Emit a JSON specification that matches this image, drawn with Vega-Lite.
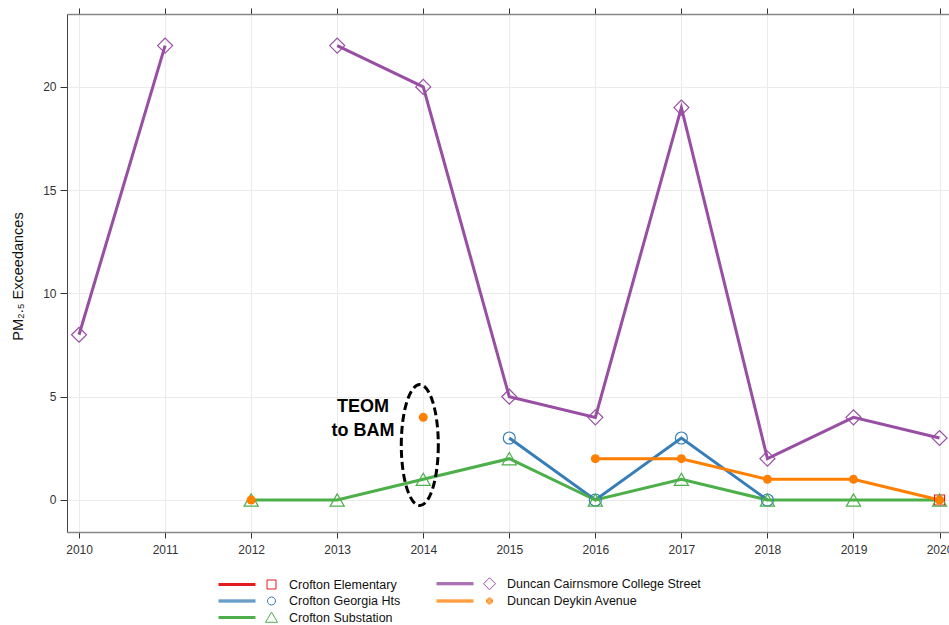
{
  "$schema": "https://vega.github.io/schema/vega-lite/v6.json",
  "width": 882,
  "height": 518,
  "autosize": {"type": "none"},
  "padding": {"left": 67, "top": 14, "right": 0, "bottom": 93},
  "background": "white",
  "config": {"view": {"stroke": null}, "font": "Liberation Sans"},
  "resolve": {"axis": {"x": "independent"}},
  "datasets": {
    "pm": [
      {"site": "Crofton Elementary", "year": 2020, "value": 0},
      {"site": "Crofton Georgia Hts", "year": 2015, "value": 3},
      {"site": "Crofton Georgia Hts", "year": 2016, "value": 0},
      {"site": "Crofton Georgia Hts", "year": 2017, "value": 3},
      {"site": "Crofton Georgia Hts", "year": 2018, "value": 0},
      {"site": "Crofton Substation", "year": 2012, "value": 0},
      {"site": "Crofton Substation", "year": 2013, "value": 0},
      {"site": "Crofton Substation", "year": 2014, "value": 1},
      {"site": "Crofton Substation", "year": 2015, "value": 2},
      {"site": "Crofton Substation", "year": 2016, "value": 0},
      {"site": "Crofton Substation", "year": 2017, "value": 1},
      {"site": "Crofton Substation", "year": 2018, "value": 0},
      {"site": "Crofton Substation", "year": 2019, "value": 0},
      {"site": "Crofton Substation", "year": 2020, "value": 0},
      {"site": "Duncan Cairnsmore College Street", "year": 2010, "value": 8},
      {"site": "Duncan Cairnsmore College Street", "year": 2011, "value": 22},
      {"site": "Duncan Cairnsmore College Street", "year": 2012, "value": null},
      {"site": "Duncan Cairnsmore College Street", "year": 2013, "value": 22},
      {"site": "Duncan Cairnsmore College Street", "year": 2014, "value": 20},
      {"site": "Duncan Cairnsmore College Street", "year": 2015, "value": 5},
      {"site": "Duncan Cairnsmore College Street", "year": 2016, "value": 4},
      {"site": "Duncan Cairnsmore College Street", "year": 2017, "value": 19},
      {"site": "Duncan Cairnsmore College Street", "year": 2018, "value": 2},
      {"site": "Duncan Cairnsmore College Street", "year": 2019, "value": 4},
      {"site": "Duncan Cairnsmore College Street", "year": 2020, "value": 3},
      {"site": "Duncan Deykin Avenue", "year": 2012, "value": 0},
      {"site": "Duncan Deykin Avenue", "year": 2013, "value": null},
      {"site": "Duncan Deykin Avenue", "year": 2014, "value": 4},
      {"site": "Duncan Deykin Avenue", "year": 2015, "value": null},
      {"site": "Duncan Deykin Avenue", "year": 2016, "value": 2},
      {"site": "Duncan Deykin Avenue", "year": 2017, "value": 2},
      {"site": "Duncan Deykin Avenue", "year": 2018, "value": 1},
      {"site": "Duncan Deykin Avenue", "year": 2019, "value": 1},
      {"site": "Duncan Deykin Avenue", "year": 2020, "value": 0}
    ],
    "ellipse": [{"year": 2013.96, "value": 2.66}],
    "note": [{"year": 2013.3, "value": 4.5, "label": "TEOM\nto BAM"}]
  },
  "layer": [
    {
      "data": {"name": "pm"},
      "mark": {"type": "line", "strokeWidth": 3, "invalid": "break-paths-show-domains"},
      "encoding": {
        "x": {"field": "year", "type": "quantitative",
          "scale": {"domain": [2009.86, 2020.11], "nice": false, "zero": false},
          "axis": {"orient": "bottom", "values": [2010, 2011, 2012, 2013, 2014, 2015, 2016, 2017, 2018, 2019, 2020], "format": "d", "grid": true, "gridColor": "#ebebeb", "domainColor": "#888888", "domainWidth": 1.5, "tickColor": "#333333", "tickSize": 6, "labelFontSize": 12, "labelColor": "#333333", "labelPadding": 6, "labelFlush": false, "labelOverlap": false, "title": null}},
        "y": {"field": "value", "type": "quantitative",
          "scale": {"domain": [-1.55, 23.53], "nice": false, "zero": false},
          "axis": {"values": [0, 5, 10, 15, 20], "grid": true, "gridColor": "#ebebeb", "domainColor": "#444444", "tickColor": "#333333", "tickSize": 7, "labelFontSize": 12, "labelColor": "#333333", "labelPadding": 4, "labelFlush": false, "title": "PM₂.₅ Exceedances", "titleFontSize": 14.5, "titleFontWeight": "normal", "titleColor": "#111111", "titleX": -49, "titleY": 262, "titleAngle": -90, "titleAlign": "center", "titleBaseline": "middle"}},
        "color": {"field": "site", "type": "nominal",
          "scale": {"domain": ["Duncan Deykin Avenue", "Duncan Cairnsmore College Street", "Crofton Substation", "Crofton Georgia Hts", "Crofton Elementary"], "range": ["#FF7F00", "#984EA3", "#4DAF4A", "#377EB8", "#E41A1C"]}, "legend": null}
      }
    },
    {
      "data": {"name": "pm"},
      "transform": [{"filter": "datum.site === 'Crofton Elementary'"}],
      "mark": {"type": "point", "shape": "square", "filled": false, "opacity": 1, "size": 100, "strokeWidth": 1.2},
      "encoding": {
        "x": {"field": "year", "type": "quantitative", "scale": {"domain": [2009.86, 2020.11], "nice": false, "zero": false}, "axis": null},
        "y": {"field": "value", "type": "quantitative", "scale": {"domain": [-1.55, 23.53], "nice": false, "zero": false}},
        "color": {"field": "site", "type": "nominal", "scale": {"domain": ["Duncan Deykin Avenue", "Duncan Cairnsmore College Street", "Crofton Substation", "Crofton Georgia Hts", "Crofton Elementary"], "range": ["#FF7F00", "#984EA3", "#4DAF4A", "#377EB8", "#E41A1C"]}, "legend": null}
      }
    },
    {
      "data": {"name": "pm"},
      "transform": [{"filter": "datum.site === 'Crofton Georgia Hts'"}],
      "mark": {"type": "point", "shape": "circle", "filled": false, "opacity": 1, "size": 144, "strokeWidth": 1.2},
      "encoding": {
        "x": {"field": "year", "type": "quantitative", "scale": {"domain": [2009.86, 2020.11], "nice": false, "zero": false}, "axis": null},
        "y": {"field": "value", "type": "quantitative", "scale": {"domain": [-1.55, 23.53], "nice": false, "zero": false}},
        "color": {"field": "site", "type": "nominal", "scale": {"domain": ["Duncan Deykin Avenue", "Duncan Cairnsmore College Street", "Crofton Substation", "Crofton Georgia Hts", "Crofton Elementary"], "range": ["#FF7F00", "#984EA3", "#4DAF4A", "#377EB8", "#E41A1C"]}, "legend": null}
      }
    },
    {
      "data": {"name": "pm"},
      "transform": [{"filter": "datum.site === 'Crofton Substation'"}],
      "mark": {"type": "point", "shape": "triangle-up", "filled": false, "opacity": 1, "size": 200, "strokeWidth": 1.2},
      "encoding": {
        "x": {"field": "year", "type": "quantitative", "scale": {"domain": [2009.86, 2020.11], "nice": false, "zero": false}, "axis": null},
        "y": {"field": "value", "type": "quantitative", "scale": {"domain": [-1.55, 23.53], "nice": false, "zero": false}},
        "color": {"field": "site", "type": "nominal", "scale": {"domain": ["Duncan Deykin Avenue", "Duncan Cairnsmore College Street", "Crofton Substation", "Crofton Georgia Hts", "Crofton Elementary"], "range": ["#FF7F00", "#984EA3", "#4DAF4A", "#377EB8", "#E41A1C"]}, "legend": null}
      }
    },
    {
      "data": {"name": "pm"},
      "transform": [{"filter": "datum.site === 'Duncan Cairnsmore College Street'"}],
      "mark": {"type": "point", "shape": "diamond", "filled": false, "opacity": 1, "size": 225, "strokeWidth": 1.2},
      "encoding": {
        "x": {"field": "year", "type": "quantitative", "scale": {"domain": [2009.86, 2020.11], "nice": false, "zero": false}, "axis": null},
        "y": {"field": "value", "type": "quantitative", "scale": {"domain": [-1.55, 23.53], "nice": false, "zero": false}},
        "color": {"field": "site", "type": "nominal", "scale": {"domain": ["Duncan Deykin Avenue", "Duncan Cairnsmore College Street", "Crofton Substation", "Crofton Georgia Hts", "Crofton Elementary"], "range": ["#FF7F00", "#984EA3", "#4DAF4A", "#377EB8", "#E41A1C"]}, "legend": null}
      }
    },
    {
      "data": {"name": "pm"},
      "transform": [{"filter": "datum.site === 'Duncan Deykin Avenue'"}],
      "mark": {"type": "point", "shape": "circle", "filled": true, "opacity": 1, "size": 81},
      "encoding": {
        "x": {"field": "year", "type": "quantitative", "scale": {"domain": [2009.86, 2020.11], "nice": false, "zero": false}, "axis": null},
        "y": {"field": "value", "type": "quantitative", "scale": {"domain": [-1.55, 23.53], "nice": false, "zero": false}},
        "color": {"field": "site", "type": "nominal", "scale": {"domain": ["Duncan Deykin Avenue", "Duncan Cairnsmore College Street", "Crofton Substation", "Crofton Georgia Hts", "Crofton Elementary"], "range": ["#FF7F00", "#984EA3", "#4DAF4A", "#377EB8", "#E41A1C"]}, "legend": null}
      }
    },
    {
      "data": {"name": "ellipse"},
      "mark": {"type": "point", "shape": "M0.306,0 C0.306,0.5523 0.169,1 0,1 C-0.169,1 -0.306,0.5523 -0.306,0 C-0.306,-0.5523 -0.169,-1 0,-1 C0.169,-1 0.306,-0.5523 0.306,0 Z", "filled": false, "size": 14641, "stroke": "#000000", "strokeWidth": 3, "strokeDash": [8, 4], "opacity": 1},
      "encoding": {
        "x": {"field": "year", "type": "quantitative", "scale": {"domain": [2009.86, 2020.11], "nice": false, "zero": false}, "axis": null},
        "y": {"field": "value", "type": "quantitative", "scale": {"domain": [-1.55, 23.53], "nice": false, "zero": false}}
      }
    },
    {
      "data": {"name": "note"},
      "mark": {"type": "text", "fontSize": 18, "fontWeight": "bold", "lineBreak": "\n", "lineHeight": 24, "align": "center", "baseline": "middle", "color": "#000000", "font": "Liberation Sans"},
      "encoding": {
        "x": {"field": "year", "type": "quantitative", "scale": {"domain": [2009.86, 2020.11], "nice": false, "zero": false}, "axis": null},
        "y": {"field": "value", "type": "quantitative", "scale": {"domain": [-1.55, 23.53], "nice": false, "zero": false}},
        "text": {"field": "label", "type": "nominal"}
      }
    },
    {
      "data": {"name": "pm"},
      "transform": [{"filter": "false"}],
      "mark": {"type": "point", "filled": false, "opacity": 1, "strokeWidth": 1},
      "encoding": {
        "x": {"field": "year", "type": "quantitative", "scale": {"domain": [2009.86, 2020.11], "nice": false, "zero": false},
          "axis": {"orient": "top", "values": [2010, 2011, 2012, 2013, 2014, 2015, 2016, 2017, 2018, 2019, 2020], "labels": false, "grid": false, "domainColor": "#888888", "domainWidth": 1.5, "tickColor": "#333333", "tickSize": 6, "title": null}},
        "y": {"field": "value", "type": "quantitative", "scale": {"domain": [-1.55, 23.53], "nice": false, "zero": false}},
        "stroke": {"field": "site", "type": "nominal",
          "scale": {"domain": ["Crofton Elementary", "Crofton Georgia Hts", "Crofton Substation", "Duncan Cairnsmore College Street", "Duncan Deykin Avenue"], "range": ["#E41A1C", "#377EB8", "#4DAF4A", "#984EA3", "#FF7F00"]},
          "legend": {"title": null, "orient": "none", "legendX": 198, "legendY": 563, "columns": 2, "columnPadding": 33, "rowPadding": 2.5, "symbolSize": 144, "symbolStrokeWidth": 1, "symbolOpacity": 1, "symbolFillColor": "transparent", "labelFontSize": 12.5, "labelColor": "#111111", "labelOffset": 11, "labelLimit": 300, "padding": 0}},
        "shape": {"field": "site", "type": "nominal",
          "scale": {"domain": ["Crofton Elementary", "Crofton Georgia Hts", "Crofton Substation", "Duncan Cairnsmore College Street", "Duncan Deykin Avenue"],
            "range": [
              "M-8.83,-0.167 L-2.67,-0.167 M-8.83,0 L-2.67,0 M-8.83,0.167 L-2.67,0.167 M-0.75,-0.75 L0.75,-0.75 L0.75,0.75 L-0.75,0.75 Z",
              "M-8.83,-0.167 L-2.67,-0.167 M-8.83,0 L-2.67,0 M-8.83,0.167 L-2.67,0.167 M0.667,0 C0.667,0.368 0.368,0.667 0,0.667 C-0.368,0.667 -0.667,0.368 -0.667,0 C-0.667,-0.368 -0.368,-0.667 0,-0.667 C0.368,-0.667 0.667,-0.368 0.667,0 Z",
              "M-8.83,-0.167 L-2.67,-0.167 M-8.83,0 L-2.67,0 M-8.83,0.167 L-2.67,0.167 M0,-0.9 L1,0.8 L-1,0.8 Z",
              "M-8.83,-0.167 L-2.67,-0.167 M-8.83,0 L-2.67,0 M-8.83,0.167 L-2.67,0.167 M0,-1 L1,0 L0,1 L-1,0 Z",
              "M-8.83,-0.167 L-2.67,-0.167 M-8.83,0 L-2.67,0 M-8.83,0.167 L-2.67,0.167 M0.5,0 C0.5,0.276 0.276,0.5 0,0.5 C-0.276,0.5 -0.5,0.276 -0.5,0 C-0.5,-0.276 -0.276,-0.5 0,-0.5 C0.276,-0.5 0.5,-0.276 0.5,0 Z M0.333,0 C0.333,0.184 0.184,0.333 0,0.333 C-0.184,0.333 -0.333,0.184 -0.333,0 C-0.333,-0.184 -0.184,-0.333 0,-0.333 C0.184,-0.333 0.333,-0.184 0.333,0 Z M0.167,0 C0.167,0.092 0.092,0.167 0,0.167 C-0.092,0.167 -0.167,0.092 -0.167,0 C-0.167,-0.092 -0.092,-0.167 0,-0.167 C0.092,-0.167 0.167,-0.092 0.167,0 Z"
            ]},
          "legend": {"title": null, "orient": "none", "legendX": 198, "legendY": 563, "columns": 2, "columnPadding": 33, "rowPadding": 2.5, "symbolSize": 144, "symbolStrokeWidth": 1, "symbolOpacity": 1, "symbolFillColor": "transparent", "labelFontSize": 12.5, "labelColor": "#111111", "labelOffset": 11, "labelLimit": 300, "padding": 0}}
      }
    }
  ]
}
